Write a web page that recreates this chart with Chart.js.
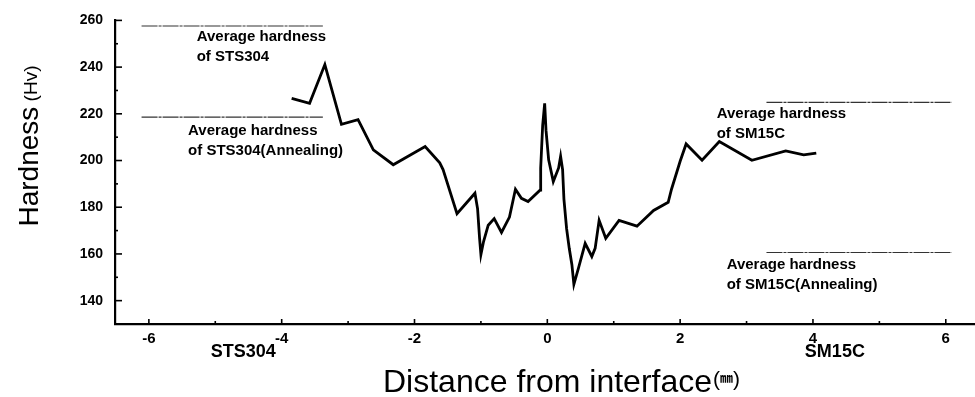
<!DOCTYPE html>
<html><head><meta charset="utf-8">
<script src="https://cdn.jsdelivr.net/npm/chart.js@4"></script>
<style>html,body{margin:0;padding:0;background:#fff}#wrap{width:975px;height:397px}</style>
</head><body><div id="wrap"><canvas id="c" width="975" height="397"></canvas></div>
<script>
// ---- data ----
const distance = [-3.85,-3.58,-3.35,-3.10,-2.85,-2.62,-2.32,-1.84,-1.62,-1.57,-1.36,-1.09,-1.05,-1.02,-1.00,-0.96,-0.89,-0.80,-0.69,-0.57,-0.48,-0.39,-0.29,-0.11,-0.10,-0.07,-0.04,-0.02,0.02,0.09,0.17,0.20,0.23,0.25,0.29,0.33,0.37,0.40,0.47,0.57,0.67,0.72,0.78,0.88,1.08,1.35,1.60,1.82,1.87,2.00,2.09,2.33,2.59,3.08,3.59,3.86,4.05];
const hardness = [226.6,224.5,241.1,215.5,217.5,204.6,198.2,206.0,199.0,196.1,177.2,186.0,179.3,166.7,159.7,165.3,172.3,175.1,169.2,175.8,187.7,183.8,182.4,187.3,196.8,215.1,224.5,213.0,200.3,191.0,196.8,201.8,196.1,183.5,170.9,162.4,155.4,147.0,154.0,164.5,158.9,162.4,174.4,166.7,174.4,171.9,178.6,182.1,187.7,199.7,207.1,200.1,208.1,200.1,204.1,202.4,203.2];

const refValues = [257.6, 218.6, 224.9, 160.6];
const refStart  = [-6.11, -6.11, 3.30, 3.30];
const refEnd    = [-3.38, -3.38, 6.09, 6.09];
const refLabels = [
  ['Average hardness','of STS304'],
  ['Average hardness','of STS304(Annealing)'],
  ['Average hardness','of SM15C'],
  ['Average hardness','of SM15C(Annealing)']
];
const materialNames = ['STS304','SM15C'];
const materialAt    = [-4.58, 4.33];

const xTickValues  = [-6,-4,-2,0,2,4,6];
const xMinorTicks  = [-5,-3,-1,1,3,5];
const yTickValues  = [140,160,180,200,220,240,260];
const yMinorTicks  = [130,150,170,190,210,230,250];

// ---- layout of annotation text (data coordinates of the first line's left/middle) ----
const refLabelAnchor = [[-5.28,252.8],[-5.41,212.5],[2.55,220.0],[2.70,155.5]];

const FONT = "'Liberation Sans', Arial, sans-serif";

const datasets = [{
  data: distance.map((x,i)=>({x, y: hardness[i]})),
  borderColor:'#000', borderWidth:2.8, pointRadius:0, tension:0, fill:false
}];
refValues.forEach((v,i)=>{
  datasets.push({
    data:[{x:refStart[i],y:v},{x:refEnd[i],y:v}],
    borderColor:'#333', borderWidth:1.1, borderDash:[16,1,3,1], pointRadius:0, fill:false
  });
});

const decor = {
  id:'decor',
  afterDraw(chart){
    const {ctx, scales:{x,y}, chartArea:ca} = chart;
    ctx.save();
    ctx.strokeStyle='#000';
    ctx.lineWidth=1.6;
    const tickY=(v,len)=>{const p=y.getPixelForValue(v);ctx.beginPath();ctx.moveTo(ca.left,p);ctx.lineTo(ca.left+len,p);ctx.stroke();};
    yTickValues.forEach(v=>tickY(v,7));
    yMinorTicks.forEach(v=>tickY(v,3));
    const tickX=(v,len)=>{const p=x.getPixelForValue(v);ctx.beginPath();ctx.moveTo(p,ca.bottom);ctx.lineTo(p,ca.bottom-len);ctx.stroke();};
    xTickValues.forEach(v=>tickX(v,5));
    xMinorTicks.forEach(v=>tickX(v,3));

    ctx.fillStyle='#000';
    ctx.font='bold 15px '+FONT;
    ctx.textAlign='left'; ctx.textBaseline='middle';
    refLabels.forEach((lines,i)=>{
      const px=x.getPixelForValue(refLabelAnchor[i][0]);
      const py=y.getPixelForValue(refLabelAnchor[i][1]);
      lines.forEach((t,k)=>ctx.fillText(t,px,py+k*20));
    });
    ctx.font='bold 18px '+FONT;
    ctx.textAlign='center';
    materialNames.forEach((t,i)=>ctx.fillText(t,x.getPixelForValue(materialAt[i]),ca.bottom+28));

    // x title
    ctx.textAlign='left'; ctx.textBaseline='alphabetic';
    ctx.font='32px '+FONT;
    const xt='Distance from interface';
    const w=ctx.measureText(xt).width;
    const x0=383;
    ctx.fillText(xt,x0,392);
    ctx.font="21px "+FONT;
    ctx.fillText('(',x0+w+1,386);
    const pw=ctx.measureText('(').width;
    ctx.font="bold 13px 'Noto Sans CJK JP', "+FONT;
    ctx.fillText('㎜',x0+w+1+pw,382);
    const mw=ctx.measureText('㎜').width;
    ctx.font="21px "+FONT;
    ctx.fillText(')',x0+w+1+pw+mw,386);

    // y title
    ctx.translate(38,146);
    ctx.rotate(-Math.PI/2);
    ctx.font='28px '+FONT;
    const a='Hardness';
    const aw=ctx.measureText(a).width;
    ctx.font='19px '+FONT;
    const b=' (Hv)';
    const bw=ctx.measureText(b).width;
    const start=-(aw+bw)/2;
    ctx.font='28px '+FONT;
    ctx.fillText(a,start,0);
    ctx.font='19px '+FONT;
    ctx.fillText(b,start+aw,-1);
    ctx.restore();
  }
};

new Chart(document.getElementById('c'),{
  type:'line',
  data:{datasets},
  options:{
    responsive:false, animation:false, devicePixelRatio:1,
    layout:{padding:{top:15,right:0,bottom:0,left:0}},
    plugins:{legend:{display:false},tooltip:{enabled:false}},
    scales:{
      x:{type:'linear',min:-6.51,max:6.44,
        afterBuildTicks:s=>{s.ticks=xTickValues.map(v=>({value:v}));},
        afterFit:s=>{s.height=73;},
        grid:{display:false,drawTicks:false,tickLength:0},
        border:{display:true,color:'#000',width:2.2},
        ticks:{color:'#000',padding:6,maxRotation:0,autoSkip:false,font:{family:FONT,size:15,weight:'bold'}}
      },
      y:{type:'linear',min:130,max:260,
        afterBuildTicks:s=>{s.ticks=yTickValues.map(v=>({value:v}));},
        afterFit:s=>{s.width=115;},
        grid:{display:false,drawTicks:false,tickLength:0},
        border:{display:true,color:'#000',width:2.2},
        ticks:{color:'#000',padding:12,font:{family:FONT,size:14,weight:'bold'}}
      }
    }
  },
  plugins:[decor]
});
</script></body></html>
